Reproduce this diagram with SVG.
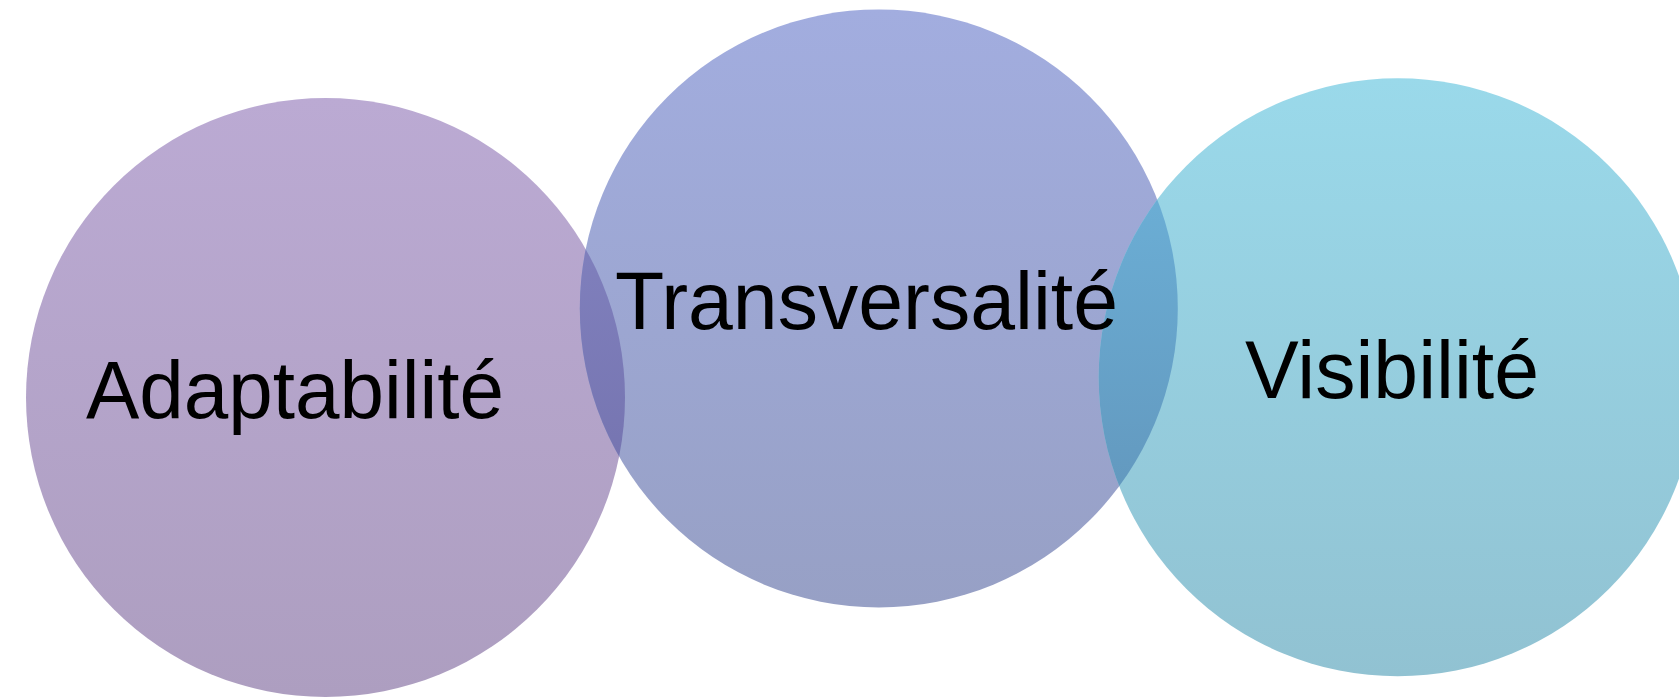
<svg xmlns="http://www.w3.org/2000/svg" width="1679" height="697" viewBox="0 0 1679 697">
  <style>
    .lbl { font-family: "Liberation Sans", Arial, sans-serif; font-size: 82px; fill: #000; }
  </style>
  <defs>
    <linearGradient id="gL" x1="0" y1="0" x2="0" y2="1">
      <stop offset="0" stop-color="#BBAAD3"/>
      <stop offset="1" stop-color="#AD9EC0"/>
    </linearGradient>
    <linearGradient id="gM" x1="0" y1="0" x2="0" y2="1">
      <stop offset="0" stop-color="#A2ADDF"/>
      <stop offset="1" stop-color="#97A0C5"/>
    </linearGradient>
    <linearGradient id="gR" x1="0" y1="0" x2="0" y2="1">
      <stop offset="0" stop-color="#9AD9EA"/>
      <stop offset="1" stop-color="#91C2D2"/>
    </linearGradient>
    <linearGradient id="gLM" gradientUnits="userSpaceOnUse" x1="0" y1="235" x2="0" y2="460">
      <stop offset="0" stop-color="#8080BD"/>
      <stop offset="1" stop-color="#7675B1"/>
    </linearGradient>
    <linearGradient id="gMR" gradientUnits="userSpaceOnUse" x1="0" y1="195" x2="0" y2="490">
      <stop offset="0" stop-color="#6BAED5"/>
      <stop offset="1" stop-color="#6399BF"/>
    </linearGradient>
    <clipPath id="clipL"><circle cx="325.5" cy="397.5" r="299.5"/></clipPath>
    <clipPath id="clipR"><circle cx="1397.7" cy="377.3" r="299"/></clipPath>
  </defs>
  <g id="node-adaptabilite">
    <circle cx="325.5" cy="397.5" r="299.5" fill="url(#gL)"/>
  </g>
  <g id="node-transversalite">
    <circle cx="878.8" cy="308.4" r="299" fill="url(#gM)"/>
  </g>
  <g id="node-visibilite">
    <circle cx="1397.7" cy="377.3" r="299" fill="url(#gR)"/>
  </g>
  <g id="overlaps">
    <circle cx="878.8" cy="308.4" r="299" fill="url(#gLM)" clip-path="url(#clipL)"/>
    <circle cx="878.8" cy="308.4" r="299" fill="url(#gMR)" clip-path="url(#clipR)"/>
  </g>
  <g id="connectors"></g>
  <g id="labels">
    <text class="lbl" x="86" y="418" textLength="418" lengthAdjust="spacingAndGlyphs">Adaptabilité</text>
    <text class="lbl" x="615" y="329.3" textLength="503" lengthAdjust="spacingAndGlyphs">Transversalité</text>
    <text class="lbl" x="1245" y="398" textLength="294" lengthAdjust="spacingAndGlyphs">Visibilité</text>
  </g>
</svg>
